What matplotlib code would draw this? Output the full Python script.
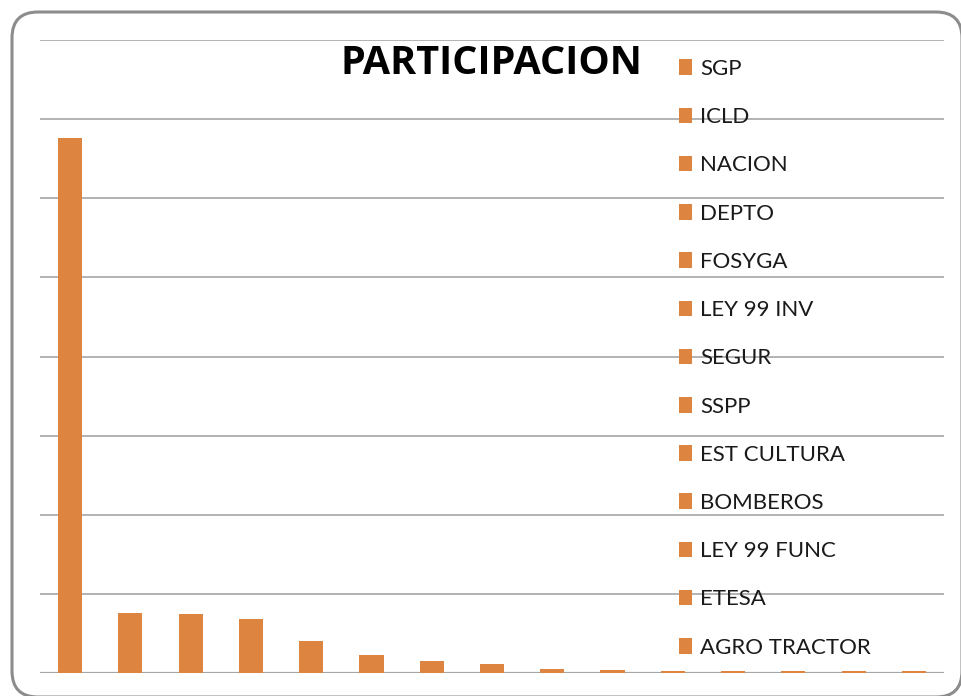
import matplotlib.pyplot as plt
from matplotlib.patches import Patch, FancyBboxPatch

# participation shares (%)
bar_values = [67.6, 7.6, 7.5, 6.8, 4.1, 2.3, 1.5, 1.1, 0.5, 0.4, 0.2, 0.2, 0.2, 0.2, 0.2]
legend_labels = ["SGP", "ICLD", "NACION", "DEPTO", "FOSYGA", "LEY 99 INV", "SEGUR",
                 "SSPP", "EST CULTURA", "BOMBEROS", "LEY 99 FUNC", "ETESA", "AGRO TRACTOR"]
title = "PARTICIPACION"
bar_color = "#DD8540"
grid_color = "#A6A6A6"

W, H = 961, 696
fig = plt.figure(figsize=(W / 100, H / 100), dpi=100)

# rounded frame around the chart; a full-figure axes in pixel units holds it
bg = fig.add_axes([0, 0, 1, 1], zorder=-1)
bg.set_xlim(0, W)
bg.set_ylim(0, H)
bg.axis("off")
bg.add_patch(FancyBboxPatch((12, -1), 950, H - 12 + 1,
                            boxstyle="round,pad=0,rounding_size=26",
                            facecolor="none", edgecolor="#8C8C8C",
                            linewidth=2.2, clip_on=False))

ax = fig.add_axes([40 / W, 1 - 673 / H, (944 - 40) / W, (673 - 40) / H])
ax.set_facecolor("none")
x = list(range(len(bar_values)))
ax.bar(x, bar_values, width=0.4, color=bar_color, zorder=3)
ax.set_xlim(-0.5, len(bar_values) - 0.5)
ax.set_ylim(0, 80)
ax.set_yticks(range(0, 81, 10))
ax.yaxis.grid(True, color=grid_color, linewidth=1.2, zorder=1)
ax.tick_params(left=False, bottom=False, labelleft=False, labelbottom=False)
for s in ax.spines.values():
    s.set_visible(False)
ax.axhline(0, color=grid_color, linewidth=1.6, zorder=2)

fig.text(491 / W, 1 - 63 / H, title, ha="center", va="center",
         fontsize=28.5, fontweight="bold", family="Open Sans")

handles = [Patch(facecolor=bar_color, edgecolor="none") for _ in legend_labels]
leg = fig.legend(handles, legend_labels, loc="upper left",
                 bbox_to_anchor=(679 / W, 1 - 59 / H), frameon=False,
                 prop={"family": "Lato", "size": 16},
                 handlelength=0.6, handleheight=0.7, handletextpad=0.35,
                 labelspacing=1.27, borderaxespad=0, borderpad=0)
for t in leg.get_texts():
    t.set_color("#1A1A1A")

fig.savefig("out.png", dpi=100)
